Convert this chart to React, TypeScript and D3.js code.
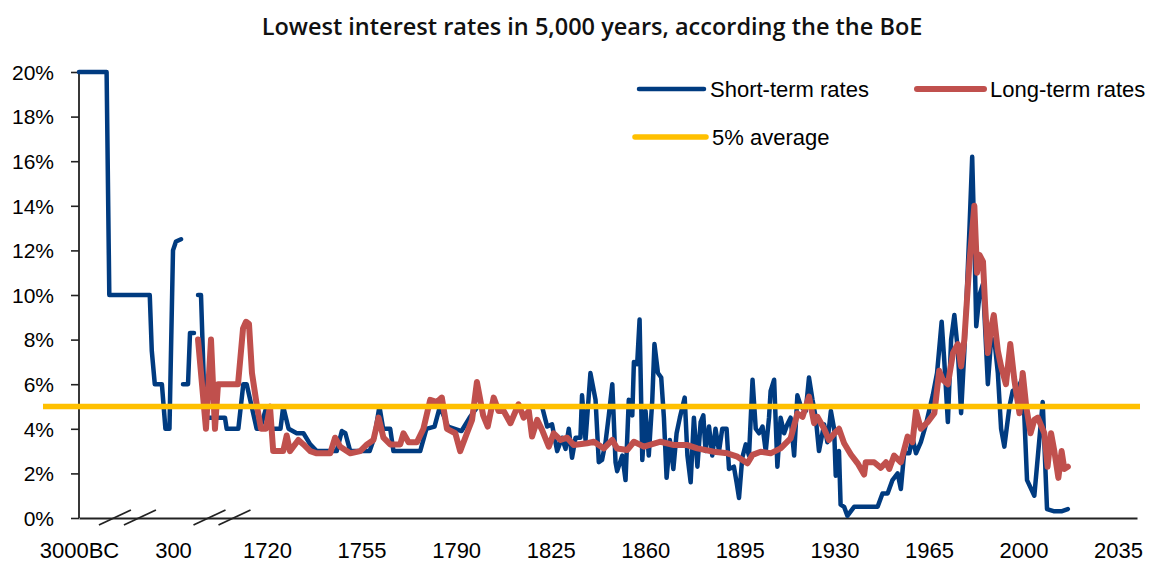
import React, { useEffect, useRef } from 'react';
import * as d3 from 'd3';

// Year -> rate (%). null marks a gap in the series.
const shortTermRates: [number, number | null][] = [
  [-3000, 20], [-2031, 20], [-1936, 10], [-516, 10], [-445, 7.5], [-339, 6], [-90, 6], [34, 4], [176, 4],
  [300, 12], [345, 12.4], [421, 12.5], [440, null],
  [451, 6], [527, 6], [557, 8.3], [617, 8.3], [650, null],
  [678, 10], [723, 10], [783, 4.5], [1085, 4.5], [1111, 4.0], [1287, 4.0], [1362, 6.0], [1413, 6.0],
  [1564, 4.0], [1614, 4.0], [1715, 5.0],
  [1721.4, 4.0], [1725, 4.0], [1726, 5.0], [1728, 4.0], [1731, 3.8], [1733.5, 3.8], [1736, 3.3], [1738.4, 3.0],
  [1745.8, 3.0], [1747.7, 3.9], [1749, 3.8], [1750.8, 3.0], [1758, 3.0], [1759.7, 3.6], [1761.6, 5.0],
  [1763, 4.0], [1765.6, 4.0], [1766.8, 3.0], [1776.7, 3.0], [1779, 4.0], [1782, 4.1], [1784, 5.0],
  [1787, 4.1], [1792, 3.9], [1795, 4.5], [1798, 5.0], [1821.8, 5.0],
  [1823.7, 4.1], [1825.5, 4.2], [1827.4, 3.0], [1829.2, 3.6], [1830.5, 3.1], [1831.7, 4.0], [1832.9, 2.7],
  [1834.2, 3.6], [1836, 3.6], [1836.6, 5.5], [1837.9, 3.5], [1839.7, 6.5], [1841.6, 5.3], [1842.8, 2.5],
  [1844, 2.6], [1845.3, 3.4], [1846.5, 4.6], [1847.8, 6.0], [1849, 2.5], [1849.6, 2.1], [1851.5, 2.8],
  [1852.7, 1.7], [1853.9, 5.3], [1855.2, 4.6], [1855.8, 7.0], [1857, 6.9], [1857.9, 8.9], [1858.9, 2.6],
  [1860.1, 4.8], [1861.3, 2.8], [1862.6, 5.3], [1863.4, 7.8], [1864.7, 6.5], [1865.9, 6.3], [1866.9, 4.5],
  [1867.9, 1.8], [1869.1, 3.5], [1870.4, 2.2], [1871.6, 3.8], [1872.8, 4.5], [1874.6, 5.4], [1875.6, 2.8],
  [1876.8, 1.6], [1878, 4.5], [1879.3, 2.3], [1880.5, 4.3], [1881.5, 4.6], [1882.3, 3.0], [1883.6, 4.1],
  [1884.8, 2.8], [1886, 4.0], [1887.3, 3.0], [1888.5, 4.0], [1890.1, 4.0], [1891, 2.2], [1892.8, 2.3],
  [1893.8, 1.6], [1894.7, 0.9], [1895.9, 2.7], [1897.2, 3.3], [1898.4, 2.8], [1899.7, 6.2], [1900.9, 4.0],
  [1902.1, 3.8], [1903.4, 4.1], [1904.6, 3.0], [1905.8, 4.5], [1906.4, 5.7], [1907.7, 6.2], [1908.9, 2.3],
  [1910.1, 4.5], [1911.4, 3.8], [1912.6, 4.2], [1913.8, 4.5], [1915.1, 2.8], [1916.3, 5.5], [1917.6, 5.0],
  [1919.4, 4.8], [1920.6, 6.3], [1921.9, 5.3], [1923.1, 4.5], [1924.3, 3.0], [1926.2, 4.2], [1927.4, 3.4],
  [1928.7, 4.8], [1929.9, 4.0], [1930.5, 1.9], [1931.7, 3.0], [1932.3, 0.6], [1933.6, 0.5], [1934.8, 0.1],
  [1937.3, 0.5], [1946, 0.5], [1947.8, 1.1], [1949.7, 1.1], [1951.5, 1.7], [1953.4, 2.0], [1954.6, 1.3],
  [1955.8, 2.9], [1957.7, 2.9], [1958.9, 3.6], [1960.2, 2.9], [1962, 3.4], [1963.9, 4.2], [1966.4, 5.5],
  [1968, 6.5], [1969.7, 8.8], [1970.7, 7.0], [1972, 4.3], [1973.2, 8.0], [1974.4, 9.1], [1975.7, 7.5],
  [1976.9, 4.7], [1978.1, 7.5], [1980, 13.0], [1981, 16.2], [1981.8, 12.5], [1982.5, 8.6], [1983.7, 10.0],
  [1985, 10.5], [1985.6, 9.0], [1986.8, 6.0], [1988, 8.0], [1989.2, 8.0], [1990.5, 6.5], [1991.7, 4.0],
  [1992.9, 3.2], [1994.8, 5.0], [1996, 5.7], [1997.9, 5.8], [1999.7, 6.3], [2001.3, 1.7], [2004, 1.0],
  [2007.1, 5.2], [2008.7, 0.4], [2011.4, 0.3], [2014, 0.3], [2016.4, 0.4],
];

const longTermRates: [number, number][] = [
  [678, 8.0], [798, 4.0], [874, 8.0], [934, 4.0], [980, 6.0], [1282, 6.0], [1358, 8.5], [1403, 8.8],
  [1448, 8.7], [1493, 6.5], [1569, 5.0], [1629, 4.0], [1705, 4.0],
  [1721.1, 5.0], [1722.3, 3.0], [1726, 3.0], [1727.3, 3.7], [1728.5, 3.0], [1731.6, 3.5], [1733.5, 3.3],
  [1736, 3.0], [1738.4, 2.9], [1743.4, 2.9], [1745.2, 3.6], [1747.1, 3.2], [1750.8, 2.9], [1754.5, 3.0],
  [1757, 3.3], [1759.4, 3.5], [1761.3, 4.5], [1763.1, 3.6], [1765.6, 3.3], [1769.3, 3.3], [1770.5, 3.8],
  [1772.4, 3.4], [1775.5, 3.4], [1777.9, 4.0], [1780.4, 5.3], [1782.9, 5.2], [1784.7, 5.4], [1786.6, 4.0],
  [1789.7, 3.8], [1791.5, 3.0], [1794, 3.8], [1795.9, 4.4], [1797.7, 6.1], [1800, 4.6], [1801.7, 4.1],
  [1803.9, 5.4], [1805.7, 4.8], [1807.6, 4.8], [1810.1, 4.25], [1813.1, 5.1], [1815, 4.5], [1816.9, 4.8],
  [1818.1, 3.65], [1820, 4.4], [1821.8, 3.95], [1824.3, 3.2], [1826.1, 3.8], [1828.6, 3.5], [1831.1, 3.6],
  [1833.5, 3.27], [1838.5, 3.35], [1841, 3.42], [1844.7, 3.12], [1847.8, 3.5], [1849.6, 3.12],
  [1853.3, 3.05], [1855.8, 3.42], [1859.5, 3.2], [1865.7, 3.42], [1870.6, 3.27], [1875.6, 3.27],
  [1879.3, 3.12], [1885.4, 2.97], [1890.4, 2.9], [1894.1, 2.75], [1897.8, 2.45], [1899.7, 2.83],
  [1902.7, 2.97], [1906.4, 2.9], [1910.1, 3.12], [1913.8, 3.57], [1916.3, 4.69], [1918.2, 4.54],
  [1920.6, 5.44], [1922.5, 4.25], [1923.7, 4.54], [1926.2, 4.0], [1928, 3.5], [1930, 3.8], [1931.7, 4.0],
  [1933.6, 3.35], [1936.1, 2.85], [1938.6, 2.45], [1941, 1.95], [1941.6, 2.5], [1944.7, 2.5],
  [1947.2, 2.25], [1949.1, 2.5], [1950.3, 2.2], [1952.1, 2.8], [1954.6, 2.5], [1957.1, 3.65], [1958.9, 3.4],
  [1960.2, 4.8], [1962, 4.0], [1964.5, 4.3], [1967, 4.7], [1968.8, 6.6], [1970.1, 6.2], [1972, 6.0],
  [1973.9, 7.4], [1975.7, 7.8], [1976.9, 6.8], [1978.1, 8.0], [1980, 11.5], [1981.8, 14.0], [1982.8, 11.0],
  [1983.7, 11.8], [1985, 11.5], [1985.8, 9.5], [1986.8, 7.4], [1988, 8.5], [1989, 9.1], [1990.5, 7.5],
  [1991.7, 6.8], [1993.5, 6.0], [1995.1, 7.8], [1996.6, 6.2], [1998.5, 4.7], [1999.7, 6.5], [2001, 5.0],
  [2002.6, 3.8], [2004, 4.4], [2005.3, 4.5], [2007.7, 3.8], [2008.9, 2.3], [2010.2, 3.8], [2011.4, 3.0],
  [2012.9, 1.8], [2014.1, 3.0], [2015.1, 2.2], [2016.4, 2.3],
];

const averageRate = 5;

const xTickYears = [-3000, 300, 1720, 1755, 1790, 1825, 1860, 1895, 1930, 1965, 2000, 2035];
const xTickLabels = ['3000BC', '300', '1720', '1755', '1790', '1825', '1860', '1895', '1930', '1965', '2000', '2035'];
const yTicks = [0, 2, 4, 6, 8, 10, 12, 14, 16, 18, 20];
// where the time axis is compressed
const axisBreakYears = [-1300, 1040];

const BLUE = '#003B80';
const RED = '#C0504D';
const YELLOW = '#FFC000';
const FONT = '"Liberation Sans", Arial, sans-serif';

export default function App() {
  const svgRef = useRef<SVGSVGElement>(null);
  const width = 1150;
  const height = 562;

  useEffect(() => {
    document.body.style.margin = '0';
    if (!svgRef.current) return;

    const svg = d3.select(svgRef.current);
    svg.selectAll('*').remove();

    // piecewise scale: ancient eras squeezed into the first two label slots
    const x = d3.scaleLinear()
      .domain([-3000, 300, 1720, 2042])
      .range([79, 173, 267, 1137]);
    const xLeft = x.range()[0];
    const xRight = x.range()[x.range().length - 1];

    const y = d3.scaleLinear()
      .domain([0, 20])
      .range([518, 72]);

    // Title
    svg.append('text')
      .attr('x', 592)
      .attr('y', 35)
      .attr('text-anchor', 'middle')
      .attr('font-family', '"Open Sans", sans-serif')
      .attr('font-weight', 600)
      .attr('font-size', '23.5px')
      .attr('fill', '#111')
      .text('Lowest interest rates in 5,000 years, according the the BoE');

    // Y axis
    const yAxis = d3.axisLeft(y).tickValues(yTicks).tickSize(8).tickPadding(17)
      .tickFormat(d => `${d}%`);
    const gy = svg.append('g')
      .attr('transform', `translate(${xLeft},0)`)
      .call(yAxis);
    gy.selectAll('line').attr('stroke', '#222').attr('stroke-width', 1.6);
    gy.select('.domain').attr('stroke', '#222').attr('stroke-width', 1.8)
      .attr('d', `M0,${y(20)}V${y(0)}`);
    gy.selectAll('text')
      .attr('font-family', FONT)
      .attr('font-size', '21px')
      .attr('fill', '#000')
      .attr('dy', '0.35em');

    // X axis
    const xAxis = d3.axisBottom(x).tickValues(xTickYears).tickSize(0).tickPadding(24)
      .tickFormat((d, i) => xTickLabels[i]);
    const gx = svg.append('g')
      .attr('transform', `translate(0,${y(0)})`)
      .call(xAxis);
    gx.select('.domain').attr('stroke', '#222').attr('stroke-width', 1.8);
    gx.selectAll('text')
      .attr('font-family', FONT)
      .attr('font-size', '22px')
      .attr('fill', '#000');

    // Axis break marks
    const breaks = svg.append('g');
    axisBreakYears.forEach(yr => {
      [-12.5, 12.5].forEach(off => {
        const cx = x(yr) + off;
        breaks.append('line')
          .attr('x1', cx - 16).attr('y1', y(0) + 7)
          .attr('x2', cx + 16).attr('y2', y(0) - 8)
          .attr('stroke', '#222')
          .attr('stroke-width', 1.8);
      });
    });

    // Short-term rates
    const shortLine = d3.line<[number, number | null]>()
      .defined(d => d[1] !== null)
      .x(d => x(d[0]))
      .y(d => y(d[1] as number));

    svg.append('path')
      .datum(shortTermRates)
      .attr('fill', 'none')
      .attr('stroke', BLUE)
      .attr('stroke-width', 4.5)
      .attr('stroke-linejoin', 'round')
      .attr('stroke-linecap', 'round')
      .attr('d', shortLine);

    // Long-term rates
    const longLine = d3.line<[number, number]>()
      .x(d => x(d[0]))
      .y(d => y(d[1]));

    svg.append('path')
      .datum(longTermRates)
      .attr('fill', 'none')
      .attr('stroke', RED)
      .attr('stroke-width', 6)
      .attr('stroke-linejoin', 'round')
      .attr('stroke-linecap', 'round')
      .attr('d', longLine);

    // 5% average
    svg.append('line')
      .attr('x1', xLeft - 36)
      .attr('x2', xRight + 3)
      .attr('y1', y(averageRate))
      .attr('y2', y(averageRate))
      .attr('stroke', YELLOW)
      .attr('stroke-width', 5.5);

    // Legend
    const legendItems = [
      { label: 'Short-term rates', color: BLUE, w: 4.5, x: 639, y: 89, len: 65 },
      { label: 'Long-term rates', color: RED, w: 6, x: 917, y: 89, len: 67 },
      { label: '5% average', color: YELLOW, w: 5.5, x: 635, y: 137, len: 71 },
    ];
    const legend = svg.append('g');
    legendItems.forEach(item => {
      legend.append('line')
        .attr('x1', item.x).attr('x2', item.x + item.len)
        .attr('y1', item.y).attr('y2', item.y)
        .attr('stroke', item.color)
        .attr('stroke-width', item.w)
        .attr('stroke-linecap', 'round');
      legend.append('text')
        .attr('x', item.x + item.len + 6)
        .attr('y', item.y)
        .attr('dy', '0.35em')
        .attr('font-family', FONT)
        .attr('font-size', '22px')
        .attr('fill', '#000')
        .text(item.label);
    });
  }, []);

  return (
    <div style={{ width, height, background: '#fff' }}>
      <svg ref={svgRef} width={width} height={height} style={{ display: 'block' }} />
    </div>
  );
}
